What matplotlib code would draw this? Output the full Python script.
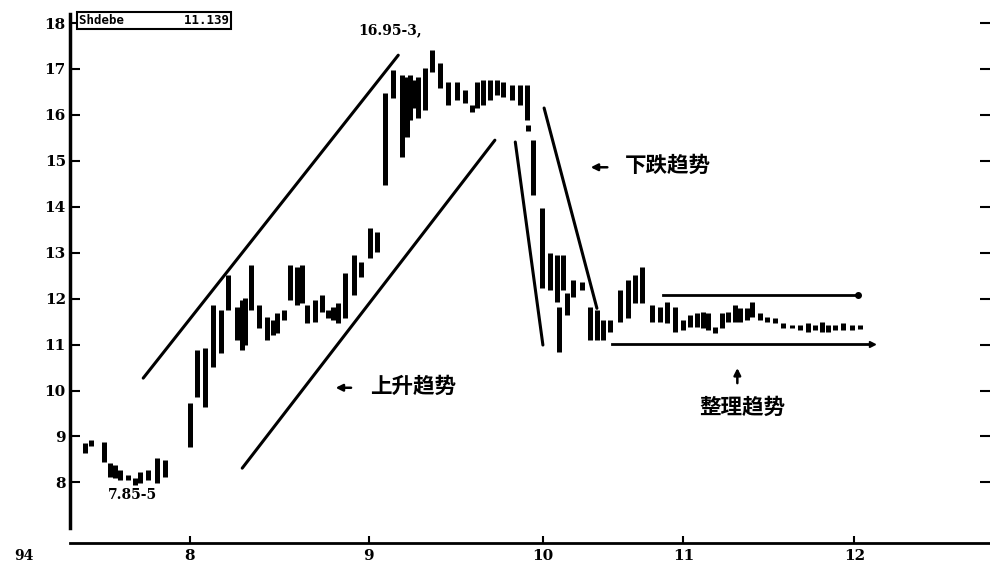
import matplotlib.pyplot as plt

plt.rcParams['font.family'] = ['DejaVu Serif', 'Noto Sans CJK SC']

# bar position (trading day index), low, high
day = [2.5, 3.5, 5.7, 6.7, 7.5, 8.3, 9.7, 10.8, 11.7, 13, 14.5, 15.8,
       20, 21.2, 22.5, 23.8, 25.2, 26.3, 27.8, 28.7, 29.2, 30.2, 31.5, 32.8,
       33.8, 34.5, 35.7, 36.7, 37.8, 38.6, 39.5, 40.8, 42, 43, 43.8, 44.7,
       45.8, 47.3, 48.5, 50, 51.2,
       52.5, 53.8, 55.3, 56.2, 56.7, 57.2, 58, 59.2, 60.3, 61.7, 63, 64.5,
       65.8, 67, 67.8, 68.8, 70, 71.2, 72.2, 73.7, 75, 76.2, 76.4, 77.2,
       78.7, 80, 81.2, 81.4, 82.2, 82.8, 83.8, 85.3, 86.7, 87.8, 88.8, 90,
       91.7, 93, 94.2, 95.3, 97, 98.3, 99.5, 100.8, 102.2, 103.3, 104.5,
       105.5, 106.3, 107.5, 108.7, 109.7, 110.8, 111.7, 112.8, 113.7, 115,
       116.2, 117.5, 118.8, 120.3, 121.7, 123, 124.2, 125.3, 126.3, 127.5,
       128.8, 130.3, 131.7]
low = [8.64, 8.80, 8.44, 8.11, 8.09, 8.05, 8.05, 7.94, 7.99, 8.05, 7.99, 8.11,
       8.77, 9.86, 9.64, 10.51, 10.81, 11.75, 11.10, 10.88, 10.99, 11.75, 11.36, 11.10,
       11.21, 11.25, 11.53, 11.97, 11.86, 11.90, 11.47, 11.49, 11.71, 11.58, 11.53, 11.47,
       11.58, 12.08, 12.47, 12.88, 13.01,
       14.47, 16.37, 15.08, 15.52, 15.89, 16.15, 15.93, 16.10, 16.93, 16.58, 16.21, 16.32,
       16.26, 16.06, 16.15, 16.21, 16.32, 16.43, 16.39, 16.32, 16.21, 15.89, 15.65, 14.25,
       12.23, 12.19, 11.92, 10.84, 12.19, 11.64, 12.03, 12.19, 11.10, 11.10, 11.10, 11.27,
       11.49, 11.58, 11.90, 11.90, 11.49, 11.49, 11.47, 11.27, 11.32, 11.38, 11.38,
       11.36, 11.32, 11.25, 11.36, 11.49, 11.49, 11.49, 11.53, 11.60, 11.53,
       11.49, 11.47, 11.36, 11.36, 11.32, 11.27, 11.32, 11.27, 11.27, 11.32,
       11.32, 11.32, 11.34]
high = [8.86, 8.92, 8.88, 8.42, 8.38, 8.27, 8.16, 8.09, 8.22, 8.27, 8.53, 8.49,
        9.73, 10.88, 10.92, 11.86, 11.75, 12.51, 11.82, 11.97, 12.01, 12.73, 11.86, 11.60,
        11.53, 11.69, 11.75, 12.73, 12.69, 12.73, 11.86, 11.97, 12.08, 11.75, 11.82, 11.90,
        12.56, 12.95, 12.80, 13.54, 13.45,
        16.47, 16.97, 16.87, 16.82, 16.87, 16.76, 16.82, 17.02, 17.41, 17.13, 16.71, 16.71,
        16.54, 16.21, 16.71, 16.76, 16.76, 16.76, 16.71, 16.65, 16.65, 16.65, 15.78, 15.45,
        13.97, 12.99, 12.95, 11.82, 12.95, 12.12, 12.40, 12.36, 11.82, 11.75, 11.53, 11.53,
        12.19, 12.40, 12.51, 12.69, 11.86, 11.82, 11.92, 11.82, 11.53, 11.64, 11.69,
        11.71, 11.69, 11.38, 11.69, 11.71, 11.86, 11.79, 11.79, 11.92, 11.69,
        11.60, 11.58, 11.47, 11.42, 11.42, 11.47, 11.42, 11.49, 11.42, 11.42,
        11.47, 11.42, 11.42]

# trend lines: (x0, y0, x1, y1)
rise_upper = (12.2, 10.27, 54.7, 17.30)
rise_lower = (28.7, 8.31, 70.8, 15.45)
fall_left = (74.2, 15.41, 78.8, 10.99)
fall_right = (79.0, 16.15, 87.8, 11.79)
range_top = (98.8, 12.08, 131.3, 12.08)
range_bottom = (90.3, 11.01, 133.7, 11.01)

month_pos = [20, 49.8, 78.8, 102.2, 130.7]
month_labels = ['8', '9', '10', '11', '12']
price_ticks = [8, 9, 10, 11, 12, 13, 14, 15, 16, 17, 18]

fig = plt.figure(figsize=(9.9, 5.67), dpi=100)
ax = fig.add_axes([0.0707, 0.0423, 0.9293, 0.9365])

ax.vlines(day, low, high, color='black', linewidth=3.6)

for x0, y0, x1, y1 in [rise_upper, rise_lower, fall_left, fall_right]:
    ax.plot([x0, x1], [y0, y1], color='black', linewidth=2.2, solid_capstyle='round')
ax.plot([range_top[0], range_top[2]], [range_top[1], range_top[3]], color='black', linewidth=2)
ax.plot(range_top[2], range_top[3], 'o', color='black', markersize=4)
ax.plot([range_bottom[0], range_bottom[2]], [range_bottom[1], range_bottom[3]], color='black', linewidth=2)
ax.plot(range_bottom[2], range_bottom[3], '>', color='black', markersize=5)

ax.set_xlim(0, 153.3)
ax.set_ylim(6.68, 18.24)
ax.set_xticks(month_pos)
ax.set_xticklabels(month_labels)
ax.set_yticks(price_ticks)
ax.set_yticklabels([str(t) for t in price_ticks])

for s in ['top', 'right']:
    ax.spines[s].set_visible(False)
ax.spines['left'].set_linewidth(2.5)
ax.spines['left'].set_bounds(7.0, 18.2)
ax.spines['bottom'].set_linewidth(2)
ax.tick_params(axis='y', direction='in', length=7, width=1.5, right=True, pad=3,
               labelsize=11)
ax.tick_params(axis='x', direction='in', length=5, width=1.5, pad=4, labelsize=11)
for lab in ax.get_xticklabels() + ax.get_yticklabels():
    lab.set_fontweight('bold')

ax.annotate('94', xy=(0, 0), xycoords='axes fraction', xytext=(-33, -9),
            textcoords='offset points', fontsize=10, fontweight='bold', ha='center', va='center')

# header box
ax.text(1.5, 18.05, 'Shdebe        11.139', fontsize=9, fontweight='bold',
        family='DejaVu Sans Mono', va='center', ha='left',
        bbox=dict(boxstyle='square,pad=0.15', fc='white', ec='black', lw=1.5))

ax.text(53.3, 17.84, '16.95-3,', fontsize=10, fontweight='bold', ha='center', va='center')
ax.text(6.3, 7.72, '7.85-5', fontsize=10, fontweight='bold', ha='left', va='center')

cjk = ['Noto Sans CJK SC', 'DejaVu Sans']
arrow = dict(arrowstyle='-|>', color='black', lw=1.8, mutation_scale=10)
ax.annotate('', xy=(43.8, 10.06), xytext=(47.3, 10.06), arrowprops=arrow)
ax.text(50, 10.1, '上升趋势', family=cjk, fontsize=15.5, fontweight='bold', va='center', ha='left')
ax.annotate('', xy=(86.3, 14.86), xytext=(90, 14.86), arrowprops=arrow)
ax.text(92.5, 14.9, '下跌趋势', family=cjk, fontsize=15.5, fontweight='bold', va='center', ha='left')
ax.annotate('', xy=(111.2, 10.55), xytext=(111.2, 10.1), arrowprops=arrow)
ax.text(112, 9.64, '整理趋势', family=cjk, fontsize=15.5, fontweight='bold', va='center', ha='center')

fig.savefig('out.png', dpi=100)
